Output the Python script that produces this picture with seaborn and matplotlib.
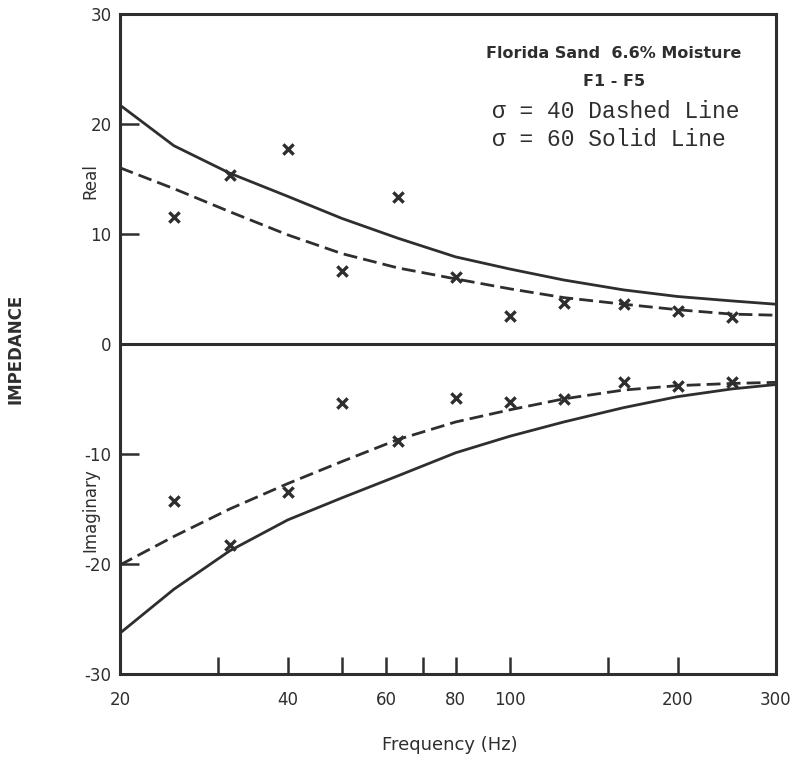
import numpy as np
import pandas as pd
import matplotlib
matplotlib.use("Agg")
import matplotlib.pyplot as plt
import seaborn as sns

sns.set_style("ticks")
plt.rcParams['font.family'] = ['DejaVu Sans']

# measured points (1/3 octave bands)
meas_freq = [25, 31.5, 40, 50, 63, 80, 100, 125, 160, 200, 250]
meas_real = [11.5, 15.3, 17.7, 6.6, 13.3, 6.1, 2.5, 3.7, 3.6, 3.0, 2.4]
meas_imag = [-14.3, -18.3, -13.5, -5.4, -8.8, -4.9, -5.3, -5.0, -3.5, -3.8, -3.5]

# model curves
curve_freq = [20, 25, 31.5, 40, 50, 63, 80, 100, 125, 160, 200, 250, 300]
real_s40 = [16.0, 14.1, 12.0, 9.9, 8.2, 6.9, 5.9, 5.0, 4.2, 3.6, 3.1, 2.7, 2.6]
real_s60 = [21.7, 18.0, 15.5, 13.4, 11.4, 9.6, 7.9, 6.8, 5.8, 4.9, 4.3, 3.9, 3.6]
imag_s40 = [-20.1, -17.5, -15.0, -12.7, -10.7, -8.7, -7.1, -6.0, -5.0, -4.2, -3.8, -3.6, -3.5]
imag_s60 = [-26.3, -22.3, -18.8, -16.0, -14.0, -12.0, -9.9, -8.4, -7.1, -5.8, -4.8, -4.1, -3.7]

xtick_vals = [20, 30, 40, 50, 60, 70, 80, 100, 150, 200, 300]
xtick_labels = ['20', '', '40', '', '60', '', '80', '100', '', '200', '300']
ytick_vals = [-30, -20, -10, 0, 10, 20, 30]

ink = '#2e2e2e'

n = len(curve_freq)
curves = pd.DataFrame({
    'freq': curve_freq * 4,
    'value': real_s40 + real_s60 + imag_s40 + imag_s60,
    'sigma': ['40'] * n + ['60'] * n + ['40'] * n + ['60'] * n,
    'part': ['real'] * (2 * n) + ['imag'] * (2 * n),
})
meas = pd.DataFrame({
    'freq': meas_freq * 2,
    'value': meas_real + meas_imag,
})

fig = plt.figure(figsize=(7.99, 7.59), dpi=100)
ax = fig.add_axes([0.150, 0.112, 0.821, 0.870])

for part in ['real', 'imag']:
    sub = curves[curves['part'] == part]
    sns.lineplot(data=sub, x='freq', y='value', style='sigma',
                 dashes={'40': (5, 2.2), '60': ''}, color=ink, lw=2.0,
                 legend=False, ax=ax)

sns.scatterplot(data=meas, x='freq', y='value', marker='x', s=55,
                color=ink, linewidth=2.4, ax=ax, zorder=5)

ax.axhline(0, color=ink, lw=2.2)
ax.set_xscale('log')
ax.set_xlim(20, 300)
ax.set_ylim(-30, 30)
ax.set_xticks(xtick_vals)
ax.set_xticklabels(xtick_labels)
ax.xaxis.set_minor_locator(matplotlib.ticker.NullLocator())
ax.set_yticks(ytick_vals)
ax.set_yticklabels([str(v) for v in ytick_vals])
ax.tick_params(axis='x', direction='in', length=12, width=1.8, color=ink,
               labelsize=12, pad=12, labelcolor=ink)
ax.tick_params(axis='y', direction='in', length=14, width=1.8, color=ink,
               labelsize=12, pad=6, labelcolor=ink)
for sp in ax.spines.values():
    sp.set_linewidth(2.2)
    sp.set_color(ink)
ax.set_xlabel('')
ax.set_ylabel('')

fig.text(0.5635, 0.018, 'Frequency (Hz)', ha='center', va='center',
         fontsize=13, color=ink)
fig.text(0.02, 0.54, 'IMPEDANCE', rotation=90, ha='center', va='center',
         fontsize=12, fontweight='bold', color=ink)
fig.text(0.113, 0.762, 'Real', rotation=90, ha='center', va='center',
         fontsize=12, color=ink)
fig.text(0.113, 0.328, 'Imaginary', rotation=90, ha='center', va='center',
         fontsize=12, color=ink)

ax.text(0.753, 0.94, 'Florida Sand  6.6% Moisture', transform=ax.transAxes,
        ha='center', va='center', fontsize=11.5, fontweight='bold', color=ink)
ax.text(0.753, 0.898, 'F1 - F5', transform=ax.transAxes,
        ha='center', va='center', fontsize=11.5, fontweight='bold', color=ink)
ax.text(0.568, 0.852, 'σ = 40 Dashed Line', transform=ax.transAxes,
        ha='left', va='center', fontsize=16.5, family='Liberation Mono', color=ink)
ax.text(0.568, 0.81, 'σ = 60 Solid Line', transform=ax.transAxes,
        ha='left', va='center', fontsize=16.5, family='Liberation Mono', color=ink)

fig.savefig('out.png', dpi=100)
